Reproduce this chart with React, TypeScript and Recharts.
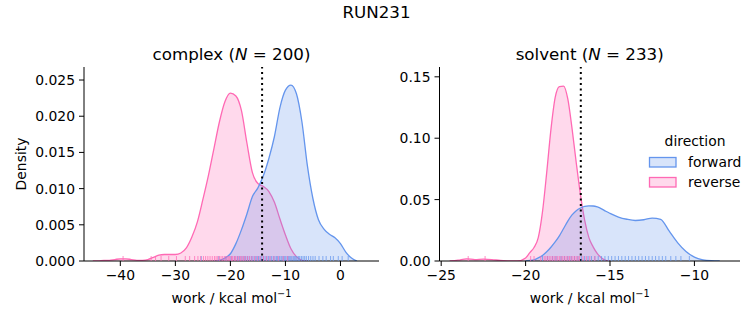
import { ComposedChart, Area, Scatter, XAxis, YAxis, ReferenceLine } from 'recharts';

// KDE curves (density per kcal/mol)
const complexX = [-46, -45, -44, -43, -42, -41, -40, -39, -38, -37, -36, -35, -34, -33, -32, -31, -30, -29, -28, -27, -26, -25, -24, -23, -22, -21, -20, -19, -18, -17, -16, -15, -14, -13, -12, -11, -10, -9, -8, -7, -6, -5, -4, -3, -2, -1, 0, 1, 2, 3, 4];
const complexReverse = [null, 0, 0, 0.0001, 0.0001, 0.0002, 0.0003, 0.0003, 0.0002, 0.0001, 0.0001, 0.0002, 0.0005, 0.0008, 0.0009, 0.0009, 0.0009, 0.0011, 0.0018, 0.0033, 0.0054, 0.0085, 0.0118, 0.0155, 0.0192, 0.022, 0.0232, 0.0228, 0.0208, 0.0163, 0.0122, 0.0107, 0.0103, 0.0096, 0.0081, 0.0058, 0.0036, 0.0017, 0.0006, 0.0001, 0, null, null, null, null, null, null, null, null, null, null];
const complexForward = [null, null, null, null, null, null, null, null, null, null, null, null, null, null, null, null, null, null, null, null, null, null, null, 0, 0.0001, 0.0004, 0.001, 0.0024, 0.0043, 0.0065, 0.0089, 0.0101, 0.0118, 0.0142, 0.0172, 0.0212, 0.0236, 0.0243, 0.0231, 0.0192, 0.0131, 0.0086, 0.0057, 0.0044, 0.0037, 0.0032, 0.0024, 0.0012, 0.0004, 0, null];

const solventX = [-24.5, -24, -23.5, -23, -22.5, -22, -21.5, -21, -20.5, -20, -19.75, -19.5, -19.25, -19, -18.75, -18.5, -18.25, -18, -17.75, -17.5, -17.25, -17, -16.75, -16.5, -16.25, -16, -15.75, -15.5, -15.25, -15, -14.5, -14, -13.5, -13, -12.5, -12, -11.5, -11, -10.5, -10, -9.5, -9, -8.5];
const solventReverse = [0, 0.0007, 0.0018, 0.0012, 0.0016, 0.0012, 0.0004, 0.0001, 0, 0.0025, 0.0068, 0.011, 0.019, 0.04, 0.072, 0.107, 0.133, 0.142, 0.1425, 0.132, 0.108, 0.08, 0.054, 0.033, 0.019, 0.0115, 0.006, 0.0025, 0.0006, 0, null, null, null, null, null, null, null, null, null, null, null, null, null];
const solventForward = [null, null, null, null, null, null, null, null, null, 0, 0.0004, 0.001, 0.0025, 0.0045, 0.0075, 0.0112, 0.0155, 0.0205, 0.0265, 0.0325, 0.0375, 0.041, 0.0432, 0.0445, 0.0449, 0.0448, 0.044, 0.0425, 0.0405, 0.0388, 0.0358, 0.034, 0.033, 0.0336, 0.035, 0.034, 0.0245, 0.015, 0.0078, 0.0032, 0.001, 0.0002, 0];

// rug positions (individual work values)
const complexForwardRug = [-25.3, -22.1, -20.8, -19.9, -19.2, -18.7, -18.3, -17.9, -17.5, -17.2, -16.9, -16.6, -16.2, -15.9, -15.5, -15.2, -14.9, -14.6, -14.3, -14.0, -13.7, -13.4, -13.1, -12.8, -12.5, -12.2, -11.9, -11.6, -11.4, -11.1, -10.8, -10.6, -10.3, -10.1, -9.9, -9.6, -9.4, -9.2, -9.0, -8.8, -8.5, -8.3, -8.1, -7.9, -7.6, -7.4, -7.1, -6.8, -6.5, -6.2, -5.8, -5.4, -5.0, -4.6, -3.9, -3.2, -2.6, -1.8, -1.3, -0.4, 0.3, 1.4];
const complexReverseRug = [-39.5, -34.4, -33.6, -32.6, -31.2, -29.8, -28.2, -27.4, -26.5, -25.9, -25.4, -24.9, -24.5, -24.1, -23.7, -23.3, -22.9, -22.6, -22.3, -22.0, -21.7, -21.4, -21.1, -20.8, -20.6, -20.3, -20.1, -19.8, -19.6, -19.3, -19.1, -18.8, -18.5, -18.2, -17.9, -17.6, -17.3, -16.9, -16.5, -16.1, -15.6, -15.1, -14.6, -14.0, -13.4, -12.8, -12.1, -11.3, -10.4, -9.6];
const solventForwardRug = [-19.0, -18.7, -18.4, -18.2, -17.9, -17.7, -17.5, -17.3, -17.1, -16.9, -16.7, -16.5, -16.3, -16.1, -15.9, -15.7, -15.5, -15.3, -15.1, -14.9, -14.7, -14.5, -14.3, -14.1, -13.9, -13.7, -13.5, -13.3, -13.1, -12.9, -12.7, -12.5, -12.3, -12.1, -11.9, -11.7, -11.4, -11.1, -10.8, -10.3];
const solventReverseRug = [-23.4, -22.4, -19.7, -19.5, -19.1, -18.9, -18.8, -18.7, -18.6, -18.5, -18.4, -18.3, -18.2, -18.1, -18.0, -17.9, -17.8, -17.7, -17.6, -17.5, -17.4, -17.3, -17.2, -17.1, -17.0, -16.9, -16.8, -16.6, -16.4, -16.2, -15.9];

// dotted line = estimated free energy
const complexMarker = -14.24;
const solventMarker = -16.73;

const complexXTicks = [-40, -30, -20, -10, 0];
const complexYTicks = [0, 0.005, 0.01, 0.015, 0.02, 0.025];
const solventXTicks = [-25, -20, -15, -10];
const solventYTicks = [0, 0.05, 0.1, 0.15];

const directions = ['forward', 'reverse'];
const COLORS: Record<string, string> = { forward: '#6495ED', reverse: '#FF69B4' };
const FONT = '"DejaVu Sans", sans-serif';

const toTable = (xs: number[], fwd: (number | null)[], rev: (number | null)[]) =>
  xs.map((x, i) => ({ x, forward: fwd[i], reverse: rev[i] }));
const toRug = (xs: number[]) => xs.map((x) => ({ x, y: 0 }));

const minus = (s: string) => s.replace('-', '\u2212');

function RugTick(color: string) {
  return (props: any) => {
    const { cx, cy } = props;
    if (cx == null || cy == null) return <g />;
    return <line x1={cx} x2={cx} y1={cy} y2={cy - 5} stroke={color} strokeWidth={1} strokeOpacity={0.75} />;
  };
}

interface PanelProps {
  data: any[];
  fwdRug: number[];
  revRug: number[];
  marker: number;
  xDomain: [number, number];
  yDomain: [number, number];
  xTicks: number[];
  yTicks: number[];
  digits: number;
  yAxisWidth: number;
  width: number;
  rightMargin: number;
}

function Panel(p: PanelProps) {
  const tickStyle = { fill: '#000', fontSize: 13.9, fontFamily: FONT };
  return (
    <ComposedChart
      width={p.width}
      height={325}
      data={p.data}
      margin={{ top: 67, right: p.rightMargin, bottom: 34, left: 0 }}
    >
      <XAxis
        dataKey="x"
        type="number"
        domain={p.xDomain}
        ticks={p.xTicks}
        allowDataOverflow
        height={30}
        tick={tickStyle}
        tickSize={5}
        tickMargin={4}
        stroke="#000"
        tickFormatter={(v: number) => minus(String(v))}
      />
      <YAxis
        dataKey="y"
        type="number"
        domain={p.yDomain}
        ticks={p.yTicks}
        allowDataOverflow
        width={p.yAxisWidth}
        tick={tickStyle}
        tickSize={5}
        tickMargin={4}
        stroke="#000"
        tickFormatter={(v: number) => v.toFixed(p.digits)}
      />
      <Area
        type="monotone"
        dataKey="reverse"
        stroke={COLORS.reverse}
        strokeWidth={1.3}
        fill={COLORS.reverse}
        fillOpacity={0.25}
        isAnimationActive={false}
        dot={false}
        activeDot={false}
      />
      <Area
        type="monotone"
        dataKey="forward"
        stroke={COLORS.forward}
        strokeWidth={1.3}
        fill={COLORS.forward}
        fillOpacity={0.25}
        isAnimationActive={false}
        dot={false}
        activeDot={false}
      />
      <Scatter data={toRug(p.fwdRug)} dataKey="y" shape={RugTick(COLORS.forward)} isAnimationActive={false} />
      <Scatter data={toRug(p.revRug)} dataKey="y" shape={RugTick(COLORS.reverse)} isAnimationActive={false} />
      <ReferenceLine x={p.marker} stroke="#000" strokeWidth={2} strokeDasharray="2.1 3.4" />
    </ComposedChart>
  );
}

export default function App() {
  return (
    <div style={{ position: 'absolute', left: 0, top: 0, width: 753, height: 325, background: '#fff', fontFamily: FONT }}>
      <div style={{ position: 'absolute', left: 0, top: 0 }}>
        <Panel
          data={toTable(complexX, complexForward, complexReverse)}
          fwdRug={complexForwardRug}
          revRug={complexReverseRug}
          marker={complexMarker}
          xDomain={[-46.6, 7.0]}
          yDomain={[0, 0.0268]}
          xTicks={complexXTicks}
          yTicks={complexYTicks}
          digits={3}
          yAxisWidth={84}
          width={380}
          rightMargin={1}
        />
      </div>
      <div style={{ position: 'absolute', left: 380, top: 0 }}>
        <Panel
          data={toTable(solventX, solventForward, solventReverse)}
          fwdRug={solventForwardRug}
          revRug={solventReverseRug}
          marker={solventMarker}
          xDomain={[-25.1, -7.3]}
          yDomain={[0, 0.158]}
          xTicks={solventXTicks}
          yTicks={solventYTicks}
          digits={2}
          yAxisWidth={59.5}
          width={373}
          rightMargin={13}
        />
      </div>
      <svg width={753} height={325} style={{ position: 'absolute', left: 0, top: 0, pointerEvents: 'none' }} fontFamily={FONT}>
        <text x={376.5} y={18.3} textAnchor="middle" fontSize={16.7} fill="#000">RUN231</text>
        <text x={231.5} y={59.5} textAnchor="middle" fontSize={16.7} fill="#000">
          complex (<tspan fontStyle="italic">N</tspan> = 200)
        </text>
        <text x={589.7} y={59.5} textAnchor="middle" fontSize={16.7} fill="#000">
          solvent (<tspan fontStyle="italic">N</tspan> = 233)
        </text>
        <text x={26} y={164} textAnchor="middle" fontSize={13.9} fill="#000" transform="rotate(-90 26 164)">Density</text>
        {[231.5, 589.7].map((cx) => (
          <text key={cx} x={cx} y={302.5} textAnchor="middle" fontSize={13.9} fill="#000">
            work / kcal mol<tspan dy={-6} fontSize={9.7}>{'\u22121'}</tspan>
          </text>
        ))}
        <text x={695} y={146} textAnchor="middle" fontSize={13.9} fill="#000">direction</text>
        {directions.map((d, i) => (
          <g key={d}>
            <rect x={649.5} y={157.5 + i * 20} width={26.5} height={9.5} fill={COLORS[d]} fillOpacity={0.25} stroke={COLORS[d]} strokeWidth={1.3} />
            <text x={688} y={166.5 + i * 20} fontSize={13.9} fill="#000">{d}</text>
          </g>
        ))}
      </svg>
    </div>
  );
}
